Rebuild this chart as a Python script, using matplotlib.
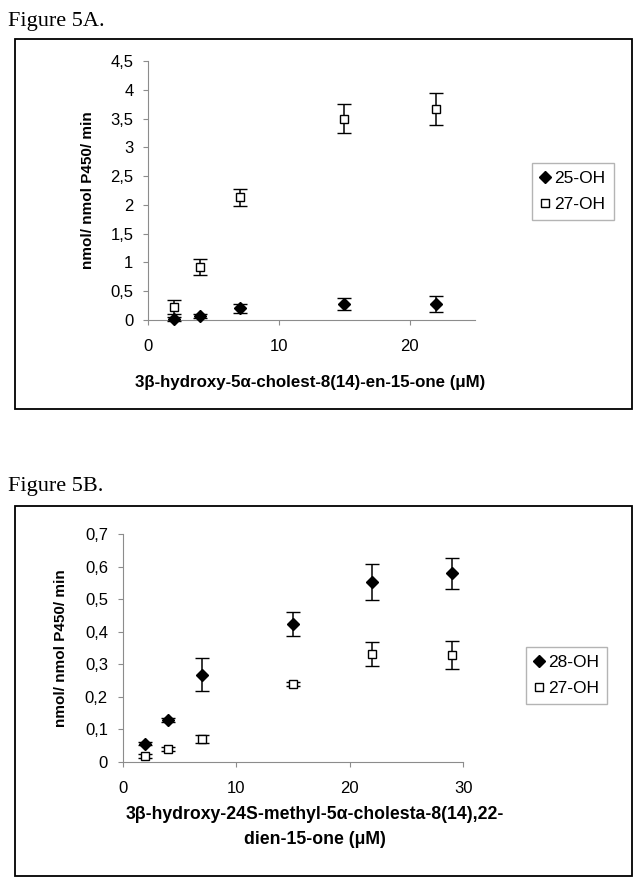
import matplotlib
matplotlib.use("Agg")
import matplotlib.pyplot as plt
from matplotlib.patches import Rectangle
from matplotlib.lines import Line2D
from matplotlib.ticker import FuncFormatter, MultipleLocator

# =====================================================
# DATA
# =====================================================

conc_a = [2, 4, 7, 15, 22]
oh25_a = [0.02, 0.07, 0.20, 0.28, 0.28]
oh25_a_err = [0.04, 0.04, 0.07, 0.11, 0.14]
oh27_a = [0.23, 0.92, 2.13, 3.50, 3.67]
oh27_a_err = [0.12, 0.14, 0.15, 0.25, 0.28]

conc_b = [2, 4, 7, 15, 22, 29]
oh28_b = [0.056, 0.128, 0.268, 0.425, 0.553, 0.580]
oh28_b_err = [0.006, 0.005, 0.050, 0.037, 0.056, 0.048]
oh27_b = [0.017, 0.040, 0.070, 0.239, 0.332, 0.328]
oh27_b_err = [0.006, 0.006, 0.011, 0.007, 0.036, 0.043]

ylabel = "nmol/ nmol P450/ min"
xlabel_a = "3β-hydroxy-5α-cholest-8(14)-en-15-one (μM)"
xlabel_b = "3β-hydroxy-24S-methyl-5α-cholesta-8(14),22-\ndien-15-one (μM)"

W, H = 644, 886
AXIS_GREY = "#8c8c8c"

plt.rcParams["font.family"] = ["Liberation Sans", "DejaVu Sans"]

fig = plt.figure(figsize=(W / 100, H / 100), dpi=100)


def px_axes(left, top, right, bottom):
    # pixel box -> figure fraction axes
    return fig.add_axes([
        left / W,
        1 - bottom / H,
        (right - left) / W,
        (bottom - top) / H
    ])


def comma(v, pos):
    return ("%g" % round(v, 6)).replace(".", ",")


def style_axes(ax, tick_size):
    for side in ["top", "right"]:
        ax.spines[side].set_visible(False)
    for side in ["left", "bottom"]:
        ax.spines[side].set_color(AXIS_GREY)
        ax.spines[side].set_linewidth(0.8)
    ax.tick_params(
        axis="y", direction="out", length=3.5, width=0.8,
        color=AXIS_GREY, labelsize=tick_size, pad=7
    )
    ax.tick_params(
        axis="x", direction="out", length=3.5, width=0.8,
        color=AXIS_GREY, labelsize=tick_size, pad=10.5
    )
    ax.yaxis.set_major_formatter(FuncFormatter(comma))
    ax.set_facecolor("none")


def draw_series(ax, x, y, err, marker, face, ms):
    ax.errorbar(
        x, y, yerr=err,
        fmt=marker,
        color="black",
        mfc=face,
        mec="black",
        mew=1.0,
        ms=ms,
        ecolor="black",
        elinewidth=1.1,
        capsize=4.7,
        capthick=1.1,
        clip_on=False,
        zorder=3
    )


def legend_handles(labels):
    return [
        Line2D([], [], ls="none", marker="D", ms=6.5,
               mfc="black", mec="black", label=labels[0]),
        Line2D([], [], ls="none", marker="s", ms=5.5,
               mfc="white", mec="black", mew=1.0, label=labels[1]),
    ]


def add_legend(ax, labels, left, top):
    ax.legend(
        handles=legend_handles(labels),
        loc="upper left",
        bbox_to_anchor=(left / W, 1 - top / H),
        bbox_transform=fig.transFigure,
        fontsize=12.5,
        frameon=True,
        fancybox=False,
        edgecolor="#b4b4b4",
        framealpha=1,
        handlelength=0.55,
        handletextpad=0.3,
        borderpad=0.45,
        labelspacing=0.65,
        borderaxespad=0
    )


def panel_box(top, bottom):
    fig.add_artist(Rectangle(
        (15 / W, 1 - bottom / H),
        (632 - 15) / W,
        (bottom - top) / H,
        transform=fig.transFigure,
        fill=False, ec="black", lw=1.3
    ))


# =====================================================
# FIGURE 5A
# =====================================================

fig.text(8 / W, 1 - 26 / H, "Figure 5A.", family="Liberation Serif",
         fontsize=16, va="baseline", ha="left")
panel_box(39, 409)

ax_a = px_axes(148, 61, 475, 320)
style_axes(ax_a, 12)
ax_a.set_xlim(0, 25)
ax_a.set_ylim(0, 4.5)
ax_a.set_xticks([0, 10, 20])
ax_a.yaxis.set_major_locator(MultipleLocator(0.5))

draw_series(ax_a, conc_a, oh25_a, oh25_a_err, "D", "black", 6.5)
draw_series(ax_a, conc_a, oh27_a, oh27_a_err, "s", "white", 5.5)

ax_a.set_ylabel(ylabel, fontsize=11, fontweight="bold")
ax_a.yaxis.set_label_coords(-0.162, 0.5)
ax_a.set_xlabel(xlabel_a, fontsize=12.2, fontweight="bold")
ax_a.xaxis.set_label_coords(0.495, -0.212)

add_legend(ax_a, ["25-OH", "27-OH"], 532, 163)

# =====================================================
# FIGURE 5B
# =====================================================

fig.text(8 / W, 1 - 491 / H, "Figure 5B.", family="Liberation Serif",
         fontsize=16, va="baseline", ha="left")
panel_box(506, 876)

ax_b = px_axes(122.5, 534.3, 463.3, 761.7)
style_axes(ax_b, 12)
ax_b.set_xlim(0, 30)
ax_b.set_ylim(0, 0.7)
ax_b.set_xticks([0, 10, 20, 30])
ax_b.yaxis.set_major_locator(MultipleLocator(0.1))

draw_series(ax_b, conc_b, oh28_b, oh28_b_err, "D", "black", 6.5)
draw_series(ax_b, conc_b, oh27_b, oh27_b_err, "s", "white", 5.5)

ax_b.set_ylabel(ylabel, fontsize=11, fontweight="bold")
ax_b.yaxis.set_label_coords(-0.16, 0.5)
ax_b.set_xlabel(xlabel_b, fontsize=12.7, fontweight="bold",
                linespacing=1.6)
ax_b.xaxis.set_label_coords(0.565, -0.287)
ax_b.xaxis.label.set_va("center")

add_legend(ax_b, ["28-OH", "27-OH"], 526, 647)

fig.savefig("out.png", dpi=100)
plt.close(fig)
